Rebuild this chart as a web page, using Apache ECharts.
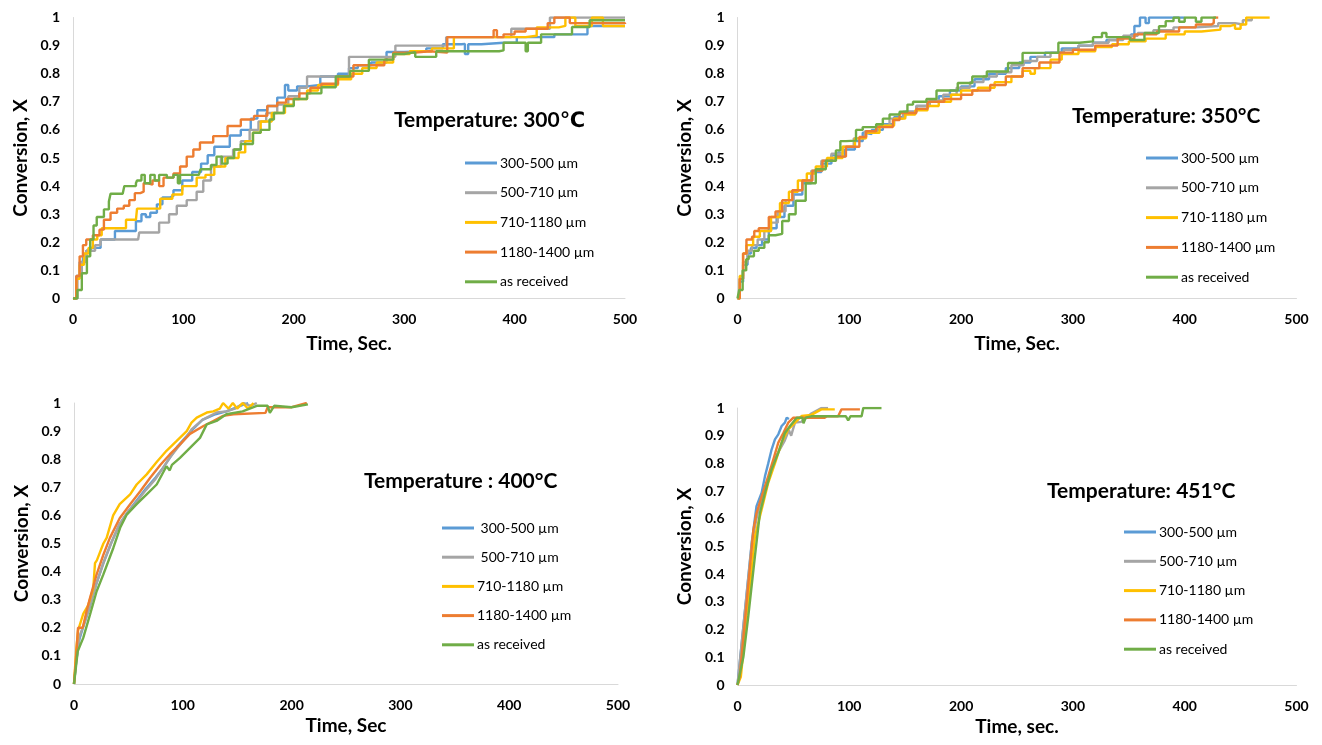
<!DOCTYPE html>
<html>
<head>
<meta charset="utf-8">
<script src="https://cdn.jsdelivr.net/npm/echarts@6/dist/echarts.min.js"></script>
<style>
html,body{margin:0;padding:0;background:#fff;}
#chart{width:1322px;height:745px;}
</style>
</head>
<body>
<div id="chart"></div>
<script>
// ---------- labels ----------
const sizeLabels = ['300-500 µm', '500-710 µm', '710-1180 µm', '1180-1400 µm', 'as received'];
const panelTitles = ['Temperature: 300℃', 'Temperature: 350°C', 'Temperature : 400°C', 'Temperature: 451°C'];
const xNames = ['Time, Sec.', 'Time, Sec.', 'Time, Sec', 'Time, sec.'];
const yName = 'Conversion, X';
const xTicks = [0, 100, 200, 300, 400, 500];
const yTicks = [0, 0.1, 0.2, 0.3, 0.4, 0.5, 0.6, 0.7, 0.8, 0.9, 1];

// ---------- 300 °C : [time s, conversion] ----------
const blue300 = [[0,0],[3,0.08],[6,0.13],[9,0.15],[12,0.17],[16,0.18],[25,0.21],[38,0.24],[57,0.275],[62,0.30],[66,0.29],[70,0.305],[76,0.335],[81,0.36],[88,0.365],[91,0.385],[99,0.42],[108,0.45],[116,0.48],[122,0.51],[128,0.54],[142,0.58],[152,0.60],[161,0.64],[167,0.67],[176,0.685],[185,0.715],[192,0.76],[195,0.74],[203,0.755],[212,0.76],[224,0.79],[240,0.80],[250,0.82],[258,0.83],[270,0.84],[284,0.877],[300,0.88],[320,0.89],[335,0.905],[352,0.906],[355,0.87],[358,0.905],[370,0.91],[390,0.91],[402,0.93],[436,0.94],[466,0.97],[500,0.97]];
const gray300 = [[0,0],[4,0.08],[8,0.13],[12,0.17],[16,0.17],[20,0.19],[25,0.21],[59,0.21],[60,0.235],[76,0.235],[78,0.27],[87,0.30],[94,0.33],[103,0.35],[112,0.38],[118,0.42],[125,0.47],[134,0.505],[145,0.53],[152,0.56],[160,0.60],[168,0.63],[175,0.66],[185,0.69],[195,0.72],[205,0.75],[212,0.79],[248,0.79],[250,0.86],[290,0.86],[292,0.90],[336,0.90],[338,0.93],[395,0.93],[397,0.96],[430,0.96],[432,1.0],[500,1.0]];
const yellow300 = [[0,0],[3,0.07],[6,0.12],[10,0.16],[14,0.18],[18,0.21],[22,0.225],[26,0.25],[45,0.25],[48,0.28],[57,0.28],[58,0.32],[76,0.32],[79,0.355],[90,0.37],[99,0.40],[106,0.40],[112,0.43],[120,0.44],[128,0.47],[138,0.50],[150,0.52],[156,0.56],[163,0.59],[170,0.63],[180,0.66],[192,0.69],[200,0.71],[212,0.74],[222,0.76],[240,0.78],[252,0.80],[262,0.82],[275,0.84],[290,0.87],[305,0.88],[325,0.89],[345,0.93],[410,0.935],[420,0.965],[440,0.97],[446,1.0],[455,0.97],[470,1.0],[480,0.97],[500,0.97]];
const orange300 = [[0,0],[3,0.08],[6,0.15],[9,0.19],[12,0.21],[18,0.225],[24,0.245],[28,0.28],[34,0.305],[40,0.32],[46,0.33],[51,0.35],[56,0.375],[61,0.38],[64,0.41],[68,0.405],[72,0.42],[78,0.40],[82,0.43],[91,0.445],[97,0.47],[103,0.505],[109,0.53],[115,0.555],[127,0.578],[140,0.614],[152,0.637],[164,0.65],[176,0.685],[185,0.697],[193,0.71],[205,0.73],[215,0.75],[225,0.764],[240,0.79],[254,0.83],[277,0.83],[282,0.85],[290,0.875],[310,0.88],[323,0.875],[339,0.93],[378,0.93],[381,0.955],[384,0.93],[390,0.94],[400,0.95],[410,0.96],[420,0.96],[430,0.98],[436,1.0],[450,0.98],[470,0.98],[500,0.977]];
const green300 = [[0,0],[4,0.03],[8,0.09],[12.6,0.15],[15.6,0.21],[18.6,0.26],[21.5,0.29],[26,0.29],[28,0.317],[32.5,0.345],[34,0.373],[45,0.38],[46.5,0.40],[57,0.41],[58,0.42],[62,0.44],[65,0.41],[70,0.44],[74,0.42],[78,0.44],[85,0.43],[91,0.44],[95,0.41],[97,0.44],[114,0.44],[115.5,0.46],[125,0.475],[130,0.505],[135,0.48],[140,0.50],[146,0.53],[152,0.55],[163,0.59],[170,0.60],[178,0.637],[182,0.66],[188,0.66],[191,0.685],[200,0.71],[212,0.73],[225,0.752],[238,0.79],[251,0.81],[268,0.85],[290,0.87],[300,0.877],[310,0.86],[320,0.86],[329,0.88],[386,0.883],[390,0.91],[408,0.91],[410,0.88],[412,0.91],[424,0.94],[450,0.94],[452,0.966],[466,0.966],[468,0.99],[500,0.99]];

// ---------- 350 °C ----------
const blue350 = [[0,0],[2,0.06],[5,0.12],[9,0.16],[12,0.18],[17,0.19],[22,0.21],[28,0.25],[35,0.29],[42,0.33],[50,0.37],[58,0.41],[66,0.45],[75,0.48],[84,0.51],[90,0.52],[92,0.505],[96,0.53],[105,0.56],[112,0.59],[114,0.585],[120,0.60],[130,0.62],[140,0.645],[150,0.665],[160,0.685],[170,0.70],[180,0.72],[190,0.74],[200,0.755],[212,0.78],[225,0.80],[240,0.82],[252,0.84],[262,0.86],[275,0.875],[290,0.89],[305,0.90],[318,0.91],[330,0.92],[340,0.93],[352,0.94],[355,0.97],[360,1.0],[365,0.98],[368,1.0],[400,1.0]];
const gray350 = [[0,0],[2,0.07],[5,0.13],[9,0.17],[13,0.19],[18,0.21],[24,0.24],[30,0.27],[36,0.31],[43,0.35],[50,0.385],[58,0.42],[66,0.455],[75,0.49],[84,0.515],[94,0.54],[104,0.57],[114,0.595],[125,0.615],[136,0.64],[148,0.665],[160,0.685],[172,0.705],[184,0.725],[196,0.75],[208,0.77],[220,0.79],[232,0.805],[245,0.83],[256,0.845],[268,0.86],[280,0.875],[292,0.885],[305,0.90],[318,0.91],[332,0.92],[345,0.935],[358,0.945],[372,0.955],[390,0.965],[410,0.97],[430,0.98],[445,0.975],[452,0.99],[460,1.0]];
const yellow350 = [[0,0],[2,0.08],[5,0.16],[8,0.19],[14,0.22],[20,0.24],[30,0.29],[38,0.34],[46,0.38],[54,0.42],[62,0.445],[70,0.47],[80,0.50],[94,0.54],[105,0.57],[115,0.59],[127,0.615],[140,0.64],[150,0.655],[159,0.67],[170,0.685],[180,0.70],[191,0.725],[200,0.74],[215,0.75],[230,0.77],[245,0.79],[255,0.81],[262,0.80],[266,0.82],[280,0.85],[290,0.87],[305,0.88],[320,0.895],[335,0.905],[350,0.915],[365,0.925],[383,0.94],[400,0.95],[415,0.957],[432,0.97],[441,0.975],[445,0.96],[450,0.975],[455,1.0],[476,1.0]];
const orange350 = [[0,0],[2,0.07],[5,0.16],[8,0.21],[13,0.22],[15,0.24],[19,0.25],[28,0.29],[34,0.31],[40,0.35],[49,0.385],[58,0.42],[67,0.455],[76,0.49],[88,0.505],[97,0.54],[109,0.575],[115,0.595],[124,0.61],[139,0.635],[145,0.66],[160,0.675],[170,0.70],[185,0.71],[200,0.725],[210,0.74],[226,0.76],[240,0.79],[255,0.82],[270,0.84],[288,0.875],[300,0.885],[320,0.90],[340,0.925],[355,0.94],[375,0.95],[395,0.965],[410,0.975],[424,0.98],[426,1.0],[430,1.0]];
const green350 = [[0,0],[1.5,0.03],[4.6,0.10],[7.8,0.14],[10,0.15],[14.7,0.17],[19,0.18],[24,0.20],[28,0.225],[34,0.23],[40,0.276],[46,0.30],[52,0.348],[61,0.41],[70,0.46],[79,0.49],[88,0.527],[92,0.56],[97,0.562],[106,0.60],[112,0.61],[124,0.62],[130,0.64],[136,0.655],[145,0.665],[152,0.69],[157,0.70],[169,0.71],[178,0.74],[184,0.74],[197,0.767],[210,0.79],[223,0.808],[242,0.838],[255,0.874],[268,0.874],[287,0.91],[306,0.915],[318,0.93],[326,0.945],[330,0.93],[340,0.93],[351,0.92],[364,0.945],[377,0.969],[383,0.987],[390,1.0],[395,0.985],[400,1.0],[410,0.985],[415,1.0],[428,1.0]];

// ---------- 400 °C ----------
const blue400 = [[0,0],[2,0.08],[5,0.16],[9,0.21],[14,0.27],[20,0.35],[27,0.43],[34,0.50],[42,0.57],[50,0.615],[58,0.655],[66,0.695],[75,0.735],[82,0.77],[88,0.805],[95,0.845],[103,0.88],[110,0.91],[118,0.94],[130,0.96],[140,0.97],[150,0.985],[160,1.0]];
const gray400 = [[0,0],[2,0.08],[5,0.17],[9,0.21],[14,0.27],[20,0.35],[27,0.43],[34,0.50],[42,0.57],[50,0.615],[58,0.65],[66,0.69],[75,0.73],[82,0.77],[88,0.805],[95,0.84],[103.6,0.88],[108,0.906],[118,0.94],[131,0.966],[140,0.97],[148,0.98],[156,1.0],[162,0.99],[168,1.0]];
const yellow400 = [[0,0],[2,0.12],[3.7,0.19],[8.5,0.25],[13,0.28],[17.7,0.34],[19.3,0.43],[21,0.44],[27,0.50],[30,0.52],[36,0.60],[42,0.64],[51.6,0.675],[57.6,0.71],[66.8,0.746],[76,0.79],[85,0.83],[94.4,0.865],[103.6,0.90],[108,0.93],[112.8,0.948],[122,0.966],[128,0.97],[134,0.98],[137,1.0],[142,0.98],[146,1.0],[150,0.98],[155,1.0],[160,0.98],[165,1.0]];
const orange400 = [[0,0],[2,0.1],[3.7,0.2],[8,0.2],[11.6,0.26],[14.7,0.306],[20.8,0.39],[27,0.46],[33,0.52],[42,0.59],[51.6,0.64],[60.9,0.686],[70,0.734],[79.5,0.78],[88,0.817],[97.4,0.853],[106.6,0.89],[119,0.918],[128,0.936],[137,0.954],[146.6,0.96],[176,0.965],[178,0.985],[200,0.985],[214,1.0]];
const green400 = [[0,0],[3.4,0.116],[8.5,0.164],[14.7,0.247],[20.8,0.33],[27,0.39],[36.2,0.485],[42.4,0.556],[48.5,0.603],[57.6,0.64],[66.8,0.675],[76,0.71],[85,0.775],[88,0.76],[90,0.78],[97.4,0.805],[106.6,0.84],[115.8,0.876],[122,0.924],[131,0.936],[140,0.96],[155,0.97],[168,0.99],[178,0.99],[180,0.965],[184,0.99],[200,0.985],[215,0.995]];

// ---------- 451 °C ----------
const blue451 = [[0,0],[12.7,0.513],[17,0.646],[21.6,0.694],[24.6,0.754],[27.5,0.80],[30.5,0.85],[33.5,0.887],[36.5,0.905],[39.5,0.935],[42.4,0.947],[44,0.965],[46,0.96]];
const gray451 = [[0,0],[13,0.52],[18,0.62],[23,0.69],[29,0.76],[35,0.83],[42,0.88],[46,0.92],[48,0.90],[51.4,0.947],[57,0.95],[66,0.98],[75,1.0],[81,1.0]];
const yellow451 = [[0,0],[3,0.03],[15.6,0.537],[21.6,0.634],[27.5,0.73],[33.5,0.80],[39.5,0.875],[45.4,0.923],[51.4,0.947],[57.3,0.971],[66,0.975],[75,0.995],[87,0.995]];
const orange451 = [[0,0],[2,0.03],[14.2,0.56],[17,0.62],[21.6,0.68],[27.5,0.754],[32,0.814],[36.5,0.875],[41,0.91],[45.4,0.947],[50,0.965],[78,0.965],[80,0.97],[90,0.97],[93,0.995],[109.5,0.995]];
const green451 = [[0,0],[5.2,0.10],[9.7,0.25],[15.6,0.465],[20,0.62],[24.6,0.694],[30.5,0.778],[36.5,0.839],[42.4,0.91],[47,0.935],[53,0.965],[58,0.965],[59,0.945],[61,0.965],[66,0.97],[97,0.97],[99,0.955],[101,0.97],[111,0.97],[112.5,1.0],[128.8,1.0]];

// ---------- layout / style (not data) ----------
const colors = ['#5B9BD5', '#A5A5A5', '#FFC000', '#ED7D31', '#70AD47'];
const FONT = 'Lato, "Open Sans", "DejaVu Sans", sans-serif';
const panels = [
  { grid: {left: 73, top: 17.5, width: 552, height: 281}, series: [blue300, gray300, yellow300, orange300, green300], step: 'end', title: {left: 394, top: 110}, legend: {left: 465, top: 155, itemGap: 13.7}, xGap: 36, pad: false },
  { grid: {left: 737.5, top: 17.5, width: 559, height: 281}, series: [blue350, gray350, yellow350, orange350, green350], step: 'end', title: {left: 1072, top: 106}, legend: {left: 1146, top: 150, itemGap: 13.8}, xGap: 36, pad: false },
  { grid: {left: 74, top: 403, width: 544, height: 281}, series: [blue400, gray400, yellow400, orange400, green400], step: false, title: {left: 364, top: 471}, legend: {left: 442, top: 520, itemGap: 13.2}, xGap: 32, pad: true },
  { grid: {left: 737.5, top: 408, width: 559, height: 277}, series: [blue451, gray451, yellow451, orange451, green451], step: false, title: {left: 1047, top: 481}, legend: {left: 1124, top: 524, itemGap: 13.3}, xGap: 32, pad: false }
];

const axisLabelStyle = {color: '#000', fontSize: 14, fontWeight: 'bold', fontFamily: FONT};
const nameStyle = {color: '#000', fontSize: 19, fontWeight: 'bold', fontFamily: FONT};

const grids = [], xAxes = [], yAxes = [], series = [], titles = [], legends = [];
panels.forEach((p, i) => {
  grids.push(Object.assign({containLabel: false}, p.grid));
  xAxes.push({
    type: 'value', gridIndex: i, min: xTicks[0], max: xTicks[xTicks.length - 1], interval: xTicks[1] - xTicks[0],
    name: xNames[i], nameLocation: 'middle', nameGap: p.xGap, nameTextStyle: nameStyle,
    axisLine: {show: true, lineStyle: {color: '#D9D9D9', width: 1}},
    axisTick: {show: false}, splitLine: {show: false},
    axisLabel: Object.assign({margin: 14}, axisLabelStyle)
  });
  yAxes.push({
    type: 'value', gridIndex: i, min: yTicks[0], max: yTicks[yTicks.length - 1], interval: 0.1,
    name: yName, nameLocation: 'middle', nameGap: 43, nameRotate: 90, nameTextStyle: nameStyle,
    axisLine: {show: true, lineStyle: {color: '#D9D9D9', width: 1}},
    axisTick: {show: false}, splitLine: {show: false},
    axisLabel: Object.assign({margin: 13}, axisLabelStyle)
  });
  p.series.forEach((d, k) => {
    series.push({
      type: 'line', name: sizeLabels[k], xAxisIndex: i, yAxisIndex: i, data: d,
      step: p.step, symbol: 'none', showSymbol: false, smooth: false,
      lineStyle: {color: colors[k], width: 2.4}, itemStyle: {color: colors[k]},
      emphasis: {disabled: true}, z: 2 + k
    });
  });
  titles.push({
    text: panelTitles[i], left: p.title.left, top: p.title.top, padding: 0,
    textStyle: {color: '#000', fontSize: 21, fontWeight: 'bold', fontFamily: FONT}
  });
  const pad = p.pad;
  legends.push({
    orient: 'vertical', left: p.legend.left, top: p.legend.top, itemGap: p.legend.itemGap, padding: 0,
    itemWidth: 32, itemHeight: 3, icon: 'rect', data: sizeLabels.slice(), selectedMode: false,
    formatter: name => (pad && sizeLabels.indexOf(name) < 2) ? ' ' + name : name,
    textStyle: {color: '#000', fontSize: 14, fontFamily: FONT, lineHeight: 16, padding: [0, 0, 0, -2]}
  });
});

const chart = echarts.init(document.getElementById('chart'), null, {renderer: 'canvas'});
chart.setOption({
  animation: false,
  backgroundColor: '#fff',
  color: colors,
  title: titles,
  legend: legends,
  grid: grids,
  xAxis: xAxes,
  yAxis: yAxes,
  series: series
});
</script>
</body>
</html>
